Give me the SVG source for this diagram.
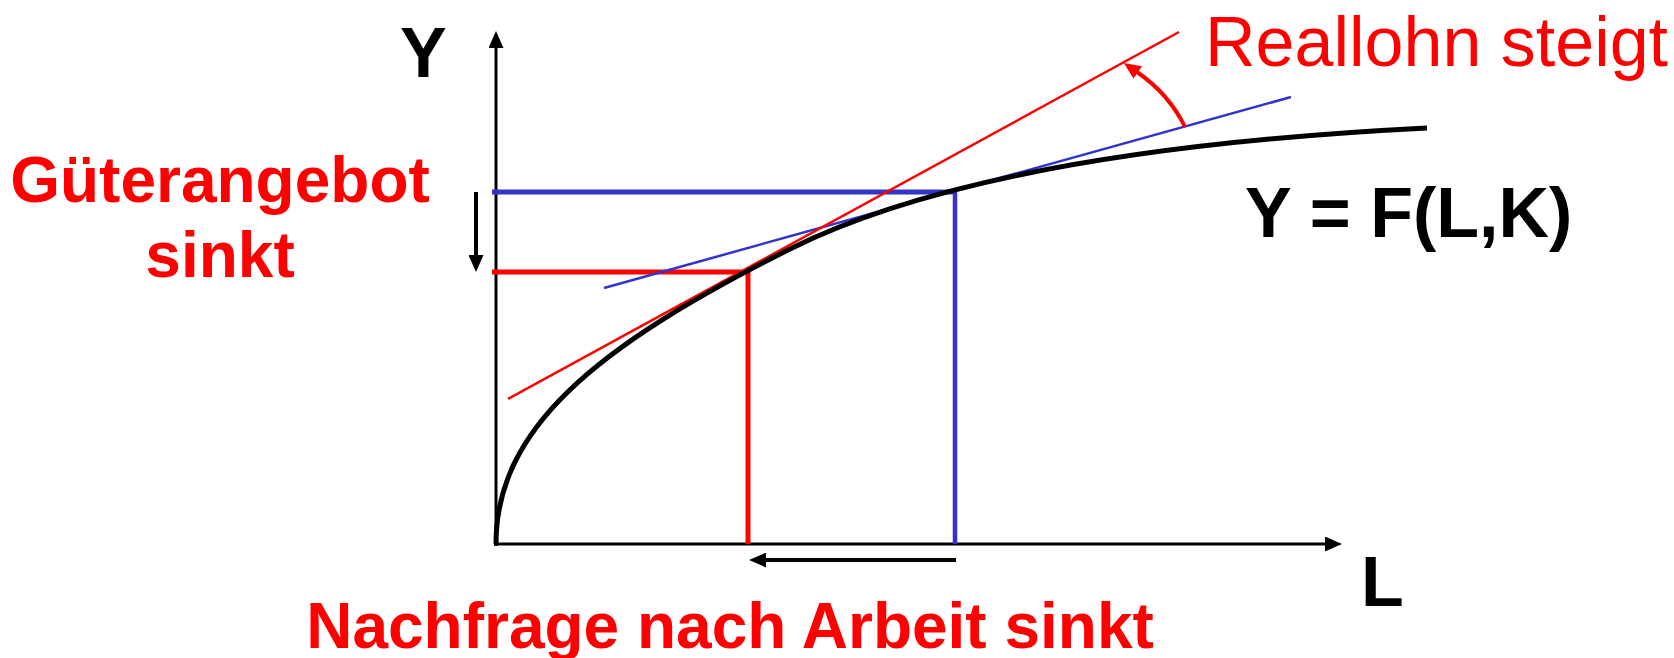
<svg xmlns="http://www.w3.org/2000/svg" width="1674" height="658" viewBox="0 0 1674 658">
  <style>
    .lbl { font-family: "Liberation Sans", Arial, sans-serif; }
    .b70 { font-size: 70px; font-weight: bold; fill: #000; }
    .r64 { font-size: 64px; font-weight: bold; fill: #FF0000; }
    .r70 { font-size: 70px; font-weight: normal; fill: #FF0000; }
    .axis { stroke: #000; stroke-width: 3; fill: none; }
    .arr { stroke: #000; stroke-width: 4; fill: none; }
    .red { stroke: #FF0000; fill: none; }
    .blue { stroke: #3333CC; fill: none; }
  </style>
  <defs>
    <marker id="ahBlack" markerUnits="userSpaceOnUse" markerWidth="17" markerHeight="15" viewBox="0 0 17 15" refX="1" refY="7.5" orient="auto">
      <path d="M0,0 L17,7.5 L0,15 Z" fill="#000"/>
    </marker>
    <marker id="ahRed" markerUnits="userSpaceOnUse" markerWidth="17" markerHeight="15" viewBox="0 0 17 15" refX="1" refY="7.5" orient="auto">
      <path d="M0,0 L17,7.5 L0,15 Z" fill="#FF0000"/>
    </marker>
  </defs>
  <rect width="1674" height="658" fill="#fff"/>

  <g id="axes">
    <line class="axis" x1="496" y1="546" x2="496" y2="47" marker-end="url(#ahBlack)"/>
    <line class="axis" x1="494" y1="544" x2="1326" y2="544" marker-end="url(#ahBlack)"/>
  </g>

  <g id="guides">
    <line class="blue" stroke-width="5" x1="492" y1="192" x2="955" y2="192"/>
    <line class="blue" stroke-width="4.5" x1="955" y1="190" x2="955" y2="544"/>
    <line class="red" stroke-width="5" x1="492" y1="272" x2="748" y2="272"/>
    <line class="red" stroke-width="5" x1="748" y1="270" x2="748" y2="544"/>
  </g>

  <g id="tangents">
    <line class="blue" stroke-width="2.5" x1="604" y1="288" x2="1291" y2="97"/>
    <line class="red" stroke-width="2.5" x1="508" y1="399" x2="1179" y2="32"/>
  </g>

  <g id="production-curve">
    <path d="M496,544 C496,429 594,347.2 790,249 C940,173.9 1177,140.5 1427,128" fill="none" stroke="#000" stroke-width="5"/>
  </g>

  <g id="connectors">
    <line class="arr" x1="476" y1="192" x2="476" y2="256" marker-end="url(#ahBlack)"/>
    <line class="arr" x1="956" y1="560" x2="765" y2="560" marker-end="url(#ahBlack)"/>
    <path class="red" stroke-width="4" d="M1185,127 Q1169,94 1137,72" marker-end="url(#ahRed)"/>
  </g>

  <g id="label-Y"><text class="lbl b70" x="400" y="77">Y</text></g>
  <g id="label-L"><text class="lbl b70" x="1361" y="606">L</text></g>
  <g id="label-function"><text class="lbl b70" x="1245" y="237">Y = F(L,K)</text></g>
  <g id="label-gueterangebot">
    <text class="lbl r64" x="220" y="202" text-anchor="middle">Güterangebot</text>
    <text class="lbl r64" x="220" y="277" text-anchor="middle">sinkt</text>
  </g>
  <g id="label-nachfrage"><text class="lbl r64" x="730" y="648" text-anchor="middle">Nachfrage nach Arbeit sinkt</text></g>
  <g id="label-reallohn"><text class="lbl r70" x="1205" y="66">Reallohn steigt</text></g>
</svg>
